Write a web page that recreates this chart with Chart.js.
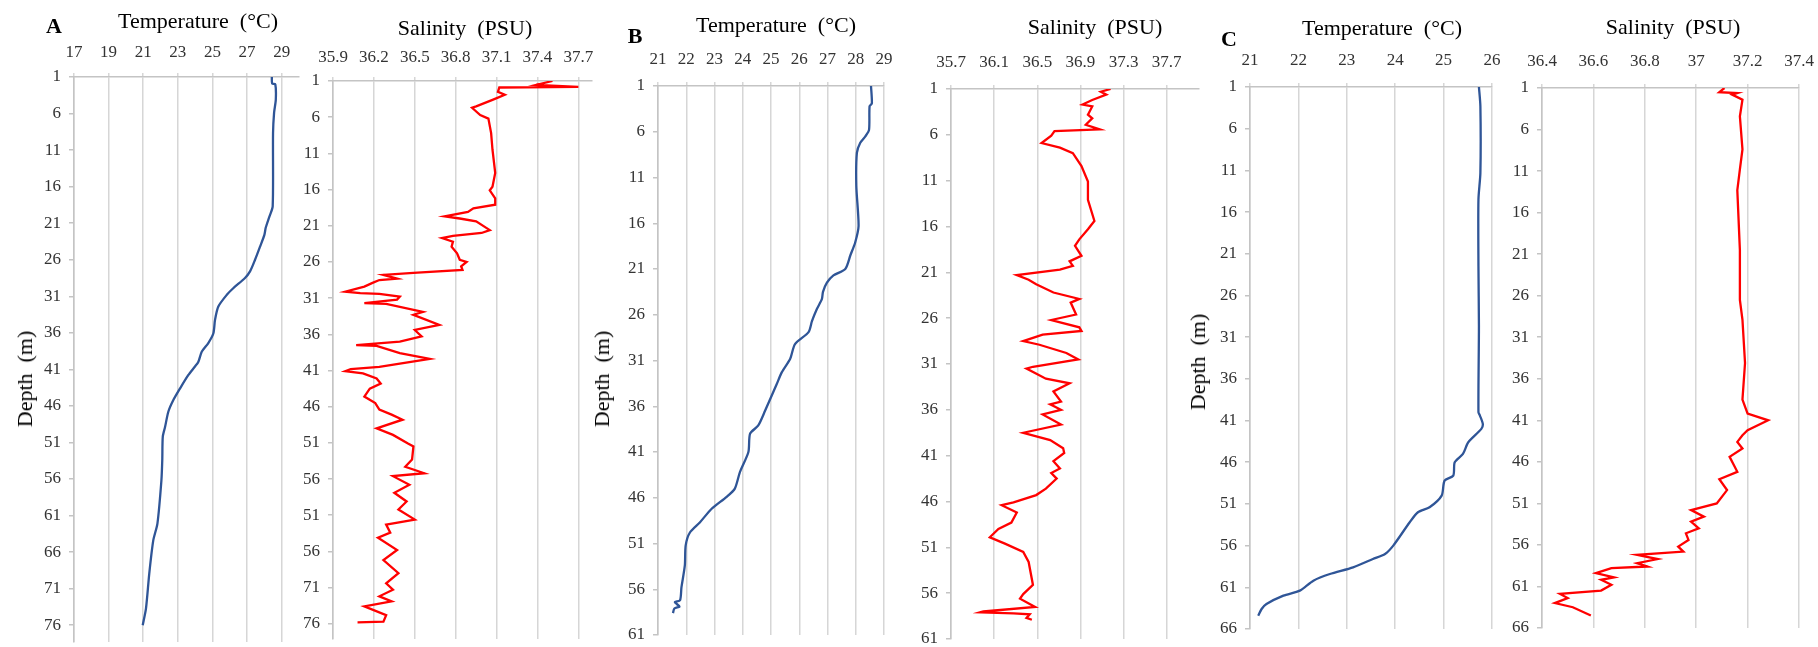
<!DOCTYPE html>
<html>
<head>
<meta charset="utf-8">
<script src="https://cdn.jsdelivr.net/npm/chart.js@4.4.1/dist/chart.umd.min.js"></script>
<style>
  body { margin: 0; background: #fff; }
  #page { position: relative; width: 1818px; height: 647px; overflow: hidden; background: #fff; }
  #page canvas { position: absolute; left: 0; top: 0; }
  .lbl { position: absolute; font-family: "Liberation Serif", "Times New Roman", serif; font-size: 22px; color: #000; white-space: pre; transform: translate(-50%, -50%); line-height: 1; }
  .letter { font-weight: bold; }
  .rot { transform: translate(-50%, -50%) rotate(-90deg); }
</style>
</head>
<body>
<div id="page">
  <canvas id="aTemp" width="1818" height="647"></canvas>
  <canvas id="aSal" width="1818" height="647"></canvas>
  <canvas id="bTemp" width="1818" height="647"></canvas>
  <canvas id="bSal" width="1818" height="647"></canvas>
  <canvas id="cTemp" width="1818" height="647"></canvas>
  <canvas id="cSal" width="1818" height="647"></canvas>

  <div class="lbl letter" style="left:54px;top:26px">A</div>
  <div class="lbl letter" style="left:635px;top:36px">B</div>
  <div class="lbl letter" style="left:1229px;top:39px">C</div>

  <div class="lbl" style="left:198px;top:21px">Temperature  (°C)</div>
  <div class="lbl" style="left:465px;top:28px">Salinity  (PSU)</div>
  <div class="lbl" style="left:776px;top:25px">Temperature  (°C)</div>
  <div class="lbl" style="left:1095px;top:27px">Salinity  (PSU)</div>
  <div class="lbl" style="left:1382px;top:28px">Temperature  (°C)</div>
  <div class="lbl" style="left:1673px;top:27px">Salinity  (PSU)</div>

  <div class="lbl rot" style="left:25px;top:379px">Depth  (m)</div>
  <div class="lbl rot" style="left:602px;top:379px">Depth  (m)</div>
  <div class="lbl rot" style="left:1198px;top:362px">Depth  (m)</div>
</div>

<script>
// -------------------- DATA -------------------
// tick labels
let aTempTicks = [17, 19, 21, 23, 25, 27, 29];
let aSalTicks = [35.9, 36.2, 36.5, 36.8, 37.1, 37.4, 37.7];
let bTempTicks = [21, 22, 23, 24, 25, 26, 27, 28, 29];
let bSalTicks = [35.7, 36.1, 36.5, 36.9, 37.3, 37.7];
let cTempTicks = [21, 22, 23, 24, 25, 26];
let cSalTicks = [36.4, 36.6, 36.8, 37, 37.2, 37.4];

let aDepthTicks = [1, 6, 11, 16, 21, 26, 31, 36, 41, 46, 51, 56, 61, 66, 71, 76];
let aDepthLabels = ['1','6','11','16','21','26','31','36','41','46','51','56','61','66','71','76'];
// the salinity panel of station A prints these labels (as in the figure)
let aSalDepthLabels = ['1','6','11','16','21','26','31','36','41','46','51','56','51','56','71','76'];
let bDepthTicks = [1, 6, 11, 16, 21, 26, 31, 36, 41, 46, 51, 56, 61];
let cDepthTicks = [1, 6, 11, 16, 21, 26, 31, 36, 41, 46, 51, 56, 61, 66];

// station A
let aTempDepth = [1.0, 1.9, 2.0, 4.1, 5.9, 8.7, 18.7, 20.1, 21.6, 22.6, 24.2, 26.0, 27.6, 28.5, 29.9, 30.8, 32.4, 34.2, 36.1, 37.4, 38.6, 40.0, 40.6, 41.8, 43.6, 45.2, 46.8, 48.9, 50.2, 53.4, 56.2, 62.1, 64.4, 68.9, 73.7, 76.0];
let aTempValue = [28.43, 28.45, 28.63, 28.66, 28.56, 28.50, 28.48, 28.29, 28.08, 28.00, 27.75, 27.46, 27.17, 26.88, 26.20, 25.83, 25.34, 25.15, 25.05, 24.76, 24.38, 24.18, 23.99, 23.60, 23.13, 22.74, 22.45, 22.26, 22.13, 22.10, 22.05, 21.82, 21.58, 21.35, 21.16, 20.97];

let aSalDepth = [1.0, 1.55, 1.8, 1.9, 2.5, 2.9, 3.6, 4.5, 4.7, 5.7, 6.2, 8.2, 10.5, 13.7, 15.6, 16.1, 17.2, 18.1, 18.6, 19.1, 19.7, 20.0, 20.4, 21.6, 22.0, 22.4, 22.7, 23.2, 23.9, 24.8, 25.7, 26.0, 26.6, 27.1, 27.5, 27.8, 28.3, 28.5, 28.9, 29.4, 30.1, 30.3, 30.4, 30.8, 31.2, 31.7, 31.8, 32.9, 33.3, 34.7, 35.4, 36.3, 37.0, 37.5, 37.6, 38.6, 39.4, 40.5, 40.8, 41.1, 41.4, 42.1, 42.8, 43.5, 44.6, 45.5, 46.4, 47.1, 47.8, 49.0, 49.9, 51.1, 51.5, 53.3, 54.3, 55.2, 55.6, 56.8, 57.9, 59.1, 60.2, 61.6, 62.3, 63.4, 64.1, 65.8, 67.2, 69.0, 70.4, 71.3, 72.2, 72.9, 73.6, 74.8, 75.7, 75.8];
let aSalValue = [37.51, 37.39, 37.70, 37.12, 37.11, 37.16, 37.07, 36.95, 36.92, 36.98, 37.04, 37.06, 37.07, 37.09, 37.07, 37.05, 37.09, 37.09, 36.93, 36.89, 36.72, 36.83, 36.95, 37.05, 36.99, 36.78, 36.70, 36.78, 36.77, 36.81, 36.83, 36.88, 36.84, 36.85, 36.49, 36.27, 36.37, 36.24, 36.19, 36.13, 35.99, 36.10, 36.24, 36.39, 36.37, 36.13, 36.29, 36.56, 36.49, 36.68, 36.50, 36.55, 36.39, 36.07, 36.22, 36.39, 36.61, 36.24, 36.03, 35.99, 36.12, 36.22, 36.25, 36.17, 36.13, 36.21, 36.24, 36.33, 36.41, 36.22, 36.34, 36.45, 36.49, 36.48, 36.43, 36.57, 36.34, 36.46, 36.35, 36.44, 36.38, 36.50, 36.29, 36.32, 36.23, 36.37, 36.27, 36.38, 36.29, 36.34, 36.24, 36.33, 36.13, 36.29, 36.27, 36.08];

// station B
let bTempDepth = [1.0, 2.9, 3.2, 5.8, 6.5, 7.2, 8.3, 11.9, 16.3, 18.1, 19.5, 21.0, 21.7, 22.5, 23.5, 24.3, 25.4, 26.7, 27.9, 29.2, 30.8, 32.3, 33.6, 36.5, 38.1, 39.0, 41.0, 43.2, 45.0, 45.9, 47.2, 48.7, 49.8, 51.2, 53.4, 55.8, 57.2, 57.4, 57.6, 57.9, 58.1, 58.6];
let bTempValue = [28.54, 28.57, 28.49, 28.47, 28.34, 28.16, 28.04, 28.02, 28.10, 27.98, 27.81, 27.63, 27.21, 26.98, 26.84, 26.80, 26.62, 26.45, 26.33, 25.85, 25.68, 25.38, 25.20, 24.79, 24.55, 24.26, 24.20, 23.90, 23.72, 23.43, 22.90, 22.48, 22.13, 21.98, 21.95, 21.83, 21.78, 21.60, 21.66, 21.76, 21.58, 21.53];

let bSalDepth = [1.0, 1.3, 1.6, 2.2, 2.7, 2.9, 3.8, 4.2, 4.9, 5.4, 5.6, 6.1, 6.9, 7.4, 8.0, 9.4, 11.1, 13.1, 15.4, 16.3, 17.4, 18.1, 19.2, 19.8, 20.3, 20.7, 21.3, 21.8, 22.3, 23.2, 23.9, 24.3, 25.6, 26.2, 27.0, 27.4, 27.8, 28.5, 28.9, 29.8, 30.5, 31.3, 31.5, 32.6, 33.1, 34.0, 35.1, 35.4, 36.0, 36.5, 37.6, 38.5, 39.3, 40.2, 40.7, 41.6, 42.4, 42.9, 43.5, 44.6, 45.3, 46.1, 46.4, 47.2, 48.3, 49.0, 49.9, 50.6, 51.5, 52.6, 55.1, 56.1, 56.6, 57.5, 58.0, 58.1, 58.2, 58.3, 58.7, 58.9];
let bSalValue = [37.18, 37.09, 37.14, 37.01, 36.92, 37.01, 36.97, 37.01, 36.95, 37.08, 36.66, 36.63, 36.54, 36.71, 36.83, 36.91, 36.97, 36.97, 37.03, 36.97, 36.89, 36.85, 36.91, 36.80, 36.83, 36.71, 36.31, 36.42, 36.49, 36.65, 36.89, 36.81, 36.86, 36.63, 36.89, 36.91, 36.55, 36.37, 36.52, 36.77, 36.88, 36.46, 36.40, 36.58, 36.80, 36.65, 36.72, 36.62, 36.72, 36.55, 36.72, 36.37, 36.62, 36.74, 36.75, 36.65, 36.71, 36.63, 36.68, 36.58, 36.49, 36.28, 36.17, 36.31, 36.26, 36.14, 36.06, 36.20, 36.37, 36.42, 36.46, 36.37, 36.34, 36.48, 36.00, 35.97, 36.28, 36.43, 36.40, 36.45];

// station C
let cTempDepth = [1.0, 3.3, 11.3, 14.5, 22.5, 29.7, 40.0, 40.4, 41.4, 42.0, 43.6, 45.0, 46.0, 47.6, 48.2, 50.0, 51.4, 52.0, 53.2, 56.0, 57.0, 57.6, 58.6, 59.4, 60.2, 61.4, 62.0, 63.0, 63.6, 64.4];
let cTempValue = [25.73, 25.76, 25.76, 25.72, 25.72, 25.73, 25.72, 25.75, 25.81, 25.78, 25.51, 25.40, 25.23, 25.20, 25.02, 24.96, 24.71, 24.47, 24.30, 23.96, 23.79, 23.54, 23.13, 22.65, 22.31, 22.03, 21.69, 21.34, 21.24, 21.17];

let cSalDepth = [1.0, 1.5, 1.6, 1.8, 2.4, 4.4, 8.4, 10.8, 13.3, 20.5, 26.5, 28.9, 34.1, 38.5, 40.2, 41.0, 42.2, 42.8, 43.6, 44.4, 45.4, 47.2, 48.1, 49.4, 51.0, 51.8, 52.6, 53.2, 54.0, 54.6, 55.4, 56.2, 56.8, 57.2, 57.7, 58.2, 58.6, 58.8, 59.4, 59.9, 60.2, 60.8, 61.5, 61.9, 62.4, 63.0, 63.5, 64.5];
let cSalValue = [37.11, 37.09, 37.16, 37.14, 37.18, 37.17, 37.18, 37.17, 37.16, 37.17, 37.17, 37.18, 37.19, 37.18, 37.20, 37.28, 37.20, 37.18, 37.16, 37.18, 37.13, 37.16, 37.09, 37.12, 37.08, 36.98, 37.03, 36.98, 37.01, 36.96, 36.97, 36.93, 36.95, 36.77, 36.85, 36.77, 36.81, 36.67, 36.61, 36.68, 36.63, 36.67, 36.63, 36.47, 36.50, 36.45, 36.52, 36.59];

// -------------------- STYLE -------------------
const PAGE_W = 1818, PAGE_H = 647;
const Y_W = 40, X_H = 40;
const FONT = {family: '"Liberation Serif", "Times New Roman", serif', size: 17};
const TICK_COLOR = '#333';
const GRID_COLOR = '#d6d6d6';
const AXIS_COLOR = '#c4c4c4';
const BLUE = '#2f5597';
const RED = '#ff0000';

// -------------------- FUNCTIONS -------------------
function makeProfile(id, p) {
  let points = p.depth.map((d, i) => ({x: p.values[i], y: d}));
  let labels = p.yLabels || p.yTicks.map(String);

  return new Chart(document.getElementById(id), {
    type: 'scatter',
    data: {
      datasets: [{
        data: points,
        showLine: true,
        borderColor: p.color,
        borderWidth: 2.3,
        pointRadius: 0,
        tension: p.tension,
        fill: false
      }]
    },
    options: {
      responsive: false,
      animation: false,
      devicePixelRatio: 1,
      layout: {
        padding: {left: p.area.l - Y_W, top: p.area.t - X_H, right: PAGE_W - p.area.r, bottom: PAGE_H - p.area.b}
      },
      plugins: {legend: {display: false}, tooltip: {enabled: false}},
      scales: {
        x: {
          type: 'linear',
          position: 'top',
          min: p.xMin,
          max: p.xMax,
          afterBuildTicks: s => { s.ticks = p.xTicks.map(v => ({value: v})); },
          afterFit: s => { s.height = X_H; s.paddingLeft = 0; s.paddingRight = 0; },
          grid: {color: GRID_COLOR, lineWidth: 1.5, tickLength: 4},
          border: {color: AXIS_COLOR, width: 1.5},
          ticks: {font: FONT, color: TICK_COLOR, padding: p.xGap, maxRotation: 0, autoSkip: false,
                  callback: v => String(v)}
        },
        y: {
          type: 'linear',
          reverse: true,
          min: 1,
          max: p.yMax,
          afterBuildTicks: s => { s.ticks = p.yTicks.map(v => ({value: v})); },
          afterFit: s => { s.width = Y_W; s.paddingTop = 0; s.paddingBottom = 0; },
          grid: {drawOnChartArea: false, color: AXIS_COLOR, lineWidth: 1.5, tickLength: 5},
          border: {color: AXIS_COLOR, width: 1.5},
          ticks: {font: FONT, color: TICK_COLOR, padding: 8, autoSkip: false,
                  callback: v => labels[p.yTicks.indexOf(v)]}
        }
      }
    }
  });
}

makeProfile('aTemp', {area: {l: 74, t: 77, r: 299, b: 642}, xMin: 17, xMax: 30, xTicks: aTempTicks, xGap: 10,
  yMax: 78.3, yTicks: aDepthTicks, yLabels: aDepthLabels, depth: aTempDepth, values: aTempValue, color: BLUE, tension: 0.25});
makeProfile('aSal', {area: {l: 333, t: 81, r: 592, b: 639}, xMin: 35.9, xMax: 37.8, xTicks: aSalTicks, xGap: 9,
  yMax: 78.1, yTicks: aDepthTicks, yLabels: aSalDepthLabels, depth: aSalDepth, values: aSalValue, color: RED, tension: 0});
makeProfile('bTemp', {area: {l: 658, t: 86, r: 884, b: 635}, xMin: 21, xMax: 29, xTicks: bTempTicks, xGap: 12,
  yMax: 61, yTicks: bDepthTicks, depth: bTempDepth, values: bTempValue, color: BLUE, tension: 0.25});
makeProfile('bSal', {area: {l: 951, t: 89, r: 1199, b: 639}, xMin: 35.7, xMax: 38.0, xTicks: bSalTicks, xGap: 12.5,
  yMax: 61, yTicks: bDepthTicks, depth: bSalDepth, values: bSalValue, color: RED, tension: 0});
makeProfile('cTemp', {area: {l: 1250, t: 87, r: 1492, b: 629}, xMin: 21, xMax: 26, xTicks: cTempTicks, xGap: 12,
  yMax: 66, yTicks: cDepthTicks, depth: cTempDepth, values: cTempValue, color: BLUE, tension: 0.25});
makeProfile('cSal', {area: {l: 1542, t: 88, r: 1799, b: 628}, xMin: 36.4, xMax: 37.4, xTicks: cSalTicks, xGap: 12,
  yMax: 66, yTicks: cDepthTicks, depth: cSalDepth, values: cSalValue, color: RED, tension: 0});
</script>
</body>
</html>
